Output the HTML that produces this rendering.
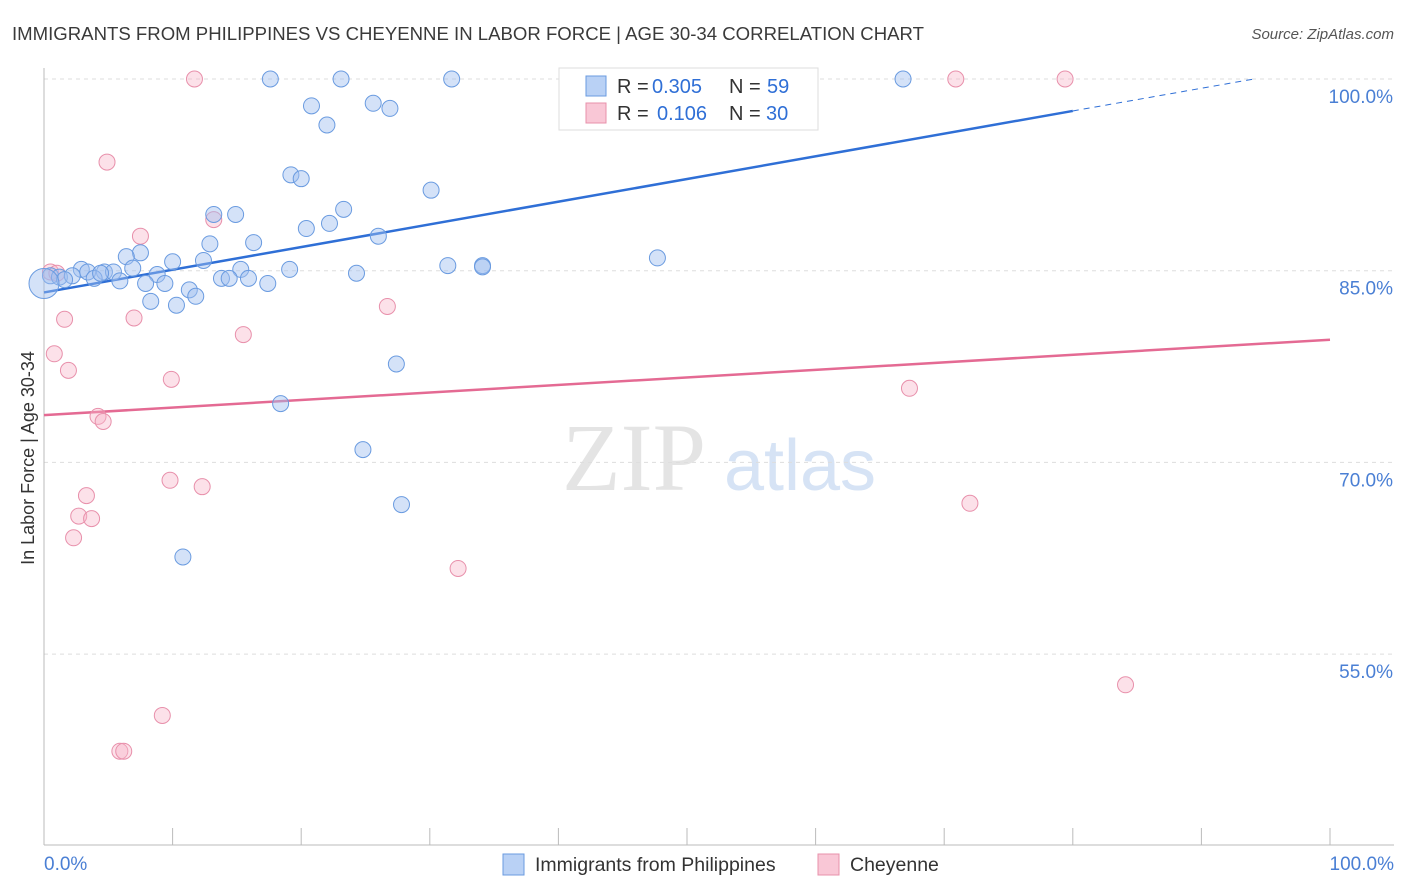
<!DOCTYPE html>
<html><head><meta charset="utf-8"><style>
body{margin:0;background:#fff;width:1406px;height:892px;overflow:hidden;font-family:"Liberation Sans",sans-serif}
svg{display:block}
</style></head><body>
<svg id="c" width="1406" height="892">
<text x="12" y="40" font-size="18" fill="#3a3a3a" textLength="912" lengthAdjust="spacingAndGlyphs">IMMIGRANTS FROM PHILIPPINES VS CHEYENNE IN LABOR FORCE | AGE 30-34 CORRELATION CHART</text>
<text x="1394" y="39" font-size="15" fill="#555" text-anchor="end" font-style="italic">Source: ZipAtlas.com</text>
<text x="34" y="458" font-size="18" fill="#333" text-anchor="middle" transform="rotate(-90 34 458)">In Labor Force | Age 30-34</text>
<g><text x="634" y="490" font-size="96" fill="#e4e4e4" font-family="Liberation Serif,serif" text-anchor="middle">ZIP</text><text x="800" y="490" font-size="72" fill="#d6e3f5" text-anchor="middle">atlas</text></g>
<g id="grid"></g><g id="axes"></g><g id="lines"></g><g id="pts"></g>
<g font-size="20">
<rect x="559" y="68" width="259" height="62" fill="#fff" stroke="#ddd"/>
<rect x="586" y="76" width="20" height="20" fill="#b9d1f5" stroke="#6a9be0"/>
<rect x="586" y="103" width="20" height="20" fill="#f9c7d6" stroke="#e890ab"/>
<text x="617" y="93" fill="#333">R =</text><text x="652" y="93" fill="#2f6fd6">0.305</text><text x="729" y="93" fill="#333">N =</text><text x="767" y="93" fill="#2f6fd6">59</text>
<text x="617" y="120" fill="#333">R =</text><text x="657" y="120" fill="#2f6fd6">0.106</text><text x="729" y="120" fill="#333">N =</text><text x="766" y="120" fill="#2f6fd6">30</text>
</g>
<g>
<rect x="503" y="854" width="21" height="21" fill="#b9d1f5" stroke="#6a9be0"/>
<text x="535" y="871" font-size="19.5" fill="#333">Immigrants from Philippines</text>
<rect x="818" y="854" width="21" height="21" fill="#f9c7d6" stroke="#e890ab"/>
<text x="850" y="871" font-size="19.5" fill="#333">Cheyenne</text>
</g>
</svg>
<script>
const blueX=[17.6,23.1,31.7,66.8,20.8,25.6,26.9,22.0,19.2,20.0,30.1,23.3,13.2,14.9,22.2,20.4,26.0,12.9,16.3,7.5,6.4,47.7,10.0,12.4,31.4,34.1,34.1,19.1,15.3,24.3,6.9,2.9,3.4,4.7,5.4,8.8,0.5,1.2,2.2,1.6,3.9,5.9,7.9,9.4,13.8,14.4,15.9,17.4,11.3,11.8,8.3,10.3,0.0,27.4,18.4,24.8,27.8,10.8,4.4];
const blueY=[100,100,100,100,97.9,98.1,97.7,96.4,92.5,92.2,91.3,89.8,89.4,89.4,88.7,88.3,87.7,87.1,87.2,86.4,86.1,86.0,85.7,85.8,85.4,85.4,85.3,85.1,85.1,84.8,85.2,85.1,84.9,84.9,84.9,84.7,84.6,84.5,84.6,84.3,84.4,84.2,84.0,84.0,84.4,84.4,84.4,84.0,83.5,83.0,82.6,82.3,84.0,77.7,74.6,71.0,66.7,62.6,84.8];
const pinkX=[11.7,70.9,79.4,4.9,7.5,13.2,0.5,1.0,1.6,7.0,26.7,15.5,0.8,1.9,9.9,4.2,4.6,67.3,9.8,12.3,3.3,2.7,3.7,2.3,72.0,32.2,9.2,84.1,5.9,6.2];
const pinkY=[100,100,100,93.5,87.7,89.0,84.9,84.8,81.2,81.3,82.2,80.0,78.5,77.2,76.5,73.6,73.2,75.8,68.6,68.1,67.4,65.8,65.6,64.1,66.8,61.7,50.2,52.6,47.4,47.4];
const yTicks=[100,85,70,55];
const xTicks=[0,10,20,30,40,50,60,70,80,90,100];
const blueLine=[83.3,97.5];const blueSolidEnd=80;const blueDashEnd=94;
const pinkLine=[73.7,79.6];
const NS="http://www.w3.org/2000/svg";
const sx=v=>44+v*12.86, sy=v=>79+(100-v)*12.78;
function mk(p,t,a){const e=document.createElementNS(NS,t);for(const k in a)e.setAttribute(k,a[k]);document.getElementById(p).appendChild(e);return e;}
yTicks.forEach(v=>{
 const l=mk('grid','line',{x1:44,x2:1394,y1:sy(v),y2:sy(v),stroke:'#ddd','stroke-dasharray':'4,4'});
 
 
 const t=mk('grid','text',{x:1393,y:sy(v)+24,'font-size':19,fill:'#4a7fd4','text-anchor':'end'});t.textContent=v.toFixed(1)+'%';
 
 
});
mk('axes','line',{x1:44,x2:44,y1:68,y2:845,stroke:'#bbb'});
mk('axes','line',{x1:44,x2:1394,y1:845,y2:845,stroke:'#bbb'});
xTicks.forEach(v=>{const l=mk('axes','line',{x1:sx(v),x2:sx(v),y1:828,y2:845,stroke:'#bbb'});
 
 });
let t=mk('axes','text',{x:44,y:870,'font-size':19,fill:'#4a7fd4'});t.textContent='0.0%';


t=mk('axes','text',{x:1394,y:870,'font-size':19,fill:'#4a7fd4','text-anchor':'end'});t.textContent='100.0%';


const by=x=>blueLine[0]+(blueLine[1]-blueLine[0])*x/blueSolidEnd;
let l=mk('lines','line',{x1:sx(0),y1:sy(by(0)),x2:sx(blueSolidEnd),y2:sy(by(blueSolidEnd)),stroke:'#2f6fd6','stroke-width':2.5});


l=mk('lines','line',{x1:sx(blueSolidEnd),y1:sy(by(blueSolidEnd)),x2:sx(blueDashEnd),y2:sy(by(blueDashEnd)),stroke:'#2f6fd6','stroke-width':1,'stroke-dasharray':'6,5'});


l=mk('lines','line',{x1:sx(0),y1:sy(pinkLine[0]),x2:sx(100),y2:sy(pinkLine[1]),stroke:'#e46a93','stroke-width':2.5});


pinkX.forEach((x,i)=>{const c=mk('pts','circle',{cx:sx(x),cy:sy(pinkY[i]),r:8,fill:'rgba(248,180,200,0.4)',stroke:'#e890ab','stroke-width':1});
 
 });
blueX.forEach((x,i)=>{const c=mk('pts','circle',{cx:sx(x),cy:sy(blueY[i]),r:(i==52?15:8),fill:'rgba(160,190,240,0.45)',stroke:'#6a9be0','stroke-width':1});
 
 });
</script>
</body></html>
